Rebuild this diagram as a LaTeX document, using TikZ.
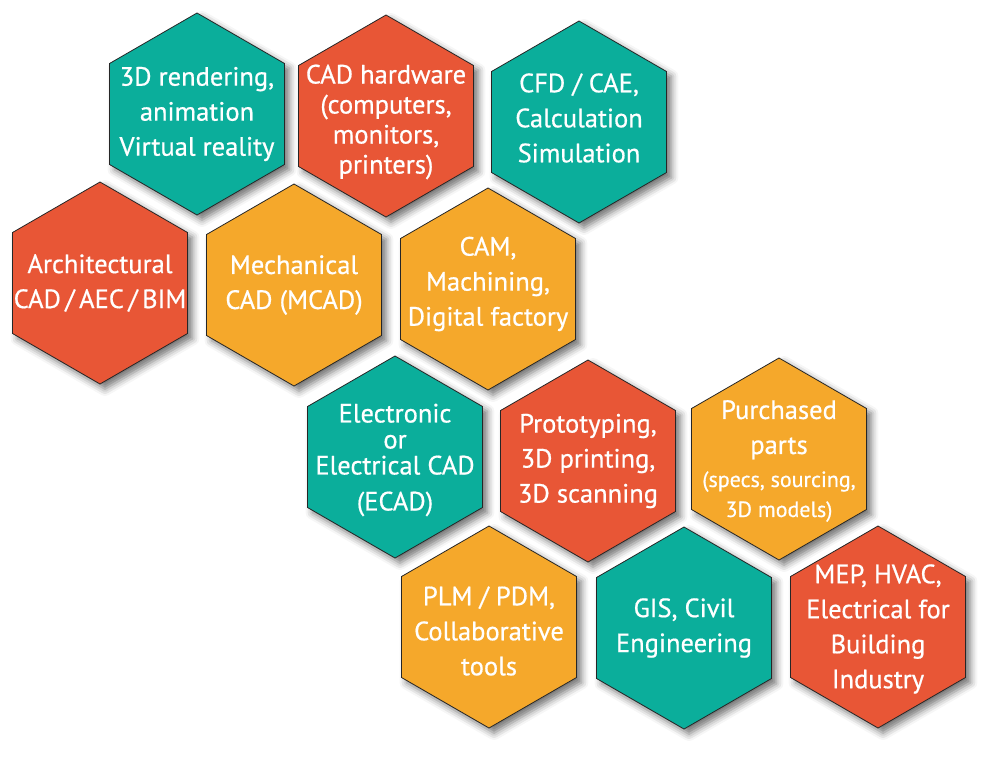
\documentclass[tikz,border=0pt]{standalone}
\usepackage{fontspec}
\setmainfont{PT Sans}
\newfontfamily\hexfont{PT Sans}[FakeBold=0.6]
\usetikzlibrary{shapes.geometric,shadows.blur}
\definecolor{hexteal}{RGB}{11,174,155}
\definecolor{hexred}{RGB}{232,86,54}
\definecolor{hexorange}{RGB}{245,168,43}
\tikzset{
        hexcell/.style={regular polygon, regular polygon sides=6, shape border rotate=30,
                minimum size=202pt, inner sep=0pt, draw=black!85, line width=0.8pt,
                blur shadow={shadow xshift=5pt, shadow yshift=-5pt, shadow blur radius=7pt, shadow opacity=55}},
        % Teal cells
        hex_teal/.style={hexcell, fill=hexteal},
        % Red cells
        hex_red/.style={hexcell, fill=hexred},
        % Orange cells
        hex_orange/.style={hexcell, fill=hexorange},
        % Cell labels
        hex_text/.style={align=center, white, inner sep=0pt, font=\hexfont\fontsize{26.5}{35}\selectfont}
}
\begin{document}
\begin{tikzpicture}[x=1pt, y=-1pt]
            \useasboundingbox (0,0) rectangle (1000,763);
            % top row
            \node[hex_teal] (render) at (197,114) {};
            \node[hex_text] (render_t) at (render) {3D rendering,\\animation\\Virtual reality};
            \node[hex_red] (hardware) at (386,116) {};
            \node[hex_text, font=\hexfont\fontsize{26.5}{30}\selectfont, yshift=-6pt] (hardware_t) at (hardware) {CAD hardware\\(computers,\\monitors,\\printers)};
            \node[hex_teal] (cfd) at (579,122) {};
            \node[hex_text, yshift=4pt] (cfd_t) at (cfd) {CFD / CAE,\\Calculation\\Simulation};
            % second row
            \node[hex_red] (arch) at (100,283) {};
            \node[hex_text] (arch_t) at (arch) {Architectural\\CAD\,/\,AEC\,/\,BIM};
            \node[hex_orange] (mcad) at (294,285) {};
            \node[hex_text] (mcad_t) at (mcad) {Mechanical\\CAD (MCAD)};
            \node[hex_orange] (cam) at (488,289) {};
            \node[hex_text, yshift=5pt] (cam_t) at (cam) {CAM,\\Machining,\\Digital factory};
            % third row
            \node[hex_teal] (ecad) at (395,457) {};
            \node[hex_text, font=\hexfont\fontsize{26.5}{26}\selectfont, yshift=-3pt] (ecad_t) at (ecad) {Electronic\\or\\Electrical CAD\\[10pt](ECAD)};
            \node[hex_red] (proto) at (588,461) {};
            \node[hex_text] (proto_t) at (proto) {Prototyping,\\3D printing,\\3D scanning};
            \node[hex_orange] (parts) at (779,459) {};
            \node[hex_text, yshift=-2pt] (parts_t) at (parts) {Purchased\\parts\\[-2pt]{\fontsize{22}{30}\selectfont(specs, sourcing,}\\[-5pt]{\fontsize{22}{30}\selectfont 3D models)}};
            % bottom row
            \node[hex_orange] (plm) at (489,627) {};
            \node[hex_text, yshift=-4pt] (plm_t) at (plm) {PLM / PDM,\\Collaborative\\tools};
            \node[hex_teal] (gis) at (684,628) {};
            \node[hex_text] (gis_t) at (gis) {GIS, Civil\\Engineering};
            \node[hex_red] (mep) at (878,627) {};
            \node[hex_text, yshift=-2pt] (mep_t) at (mep) {MEP, HVAC,\\Electrical for\\Building\\Industry};
\end{tikzpicture}
\end{document}
